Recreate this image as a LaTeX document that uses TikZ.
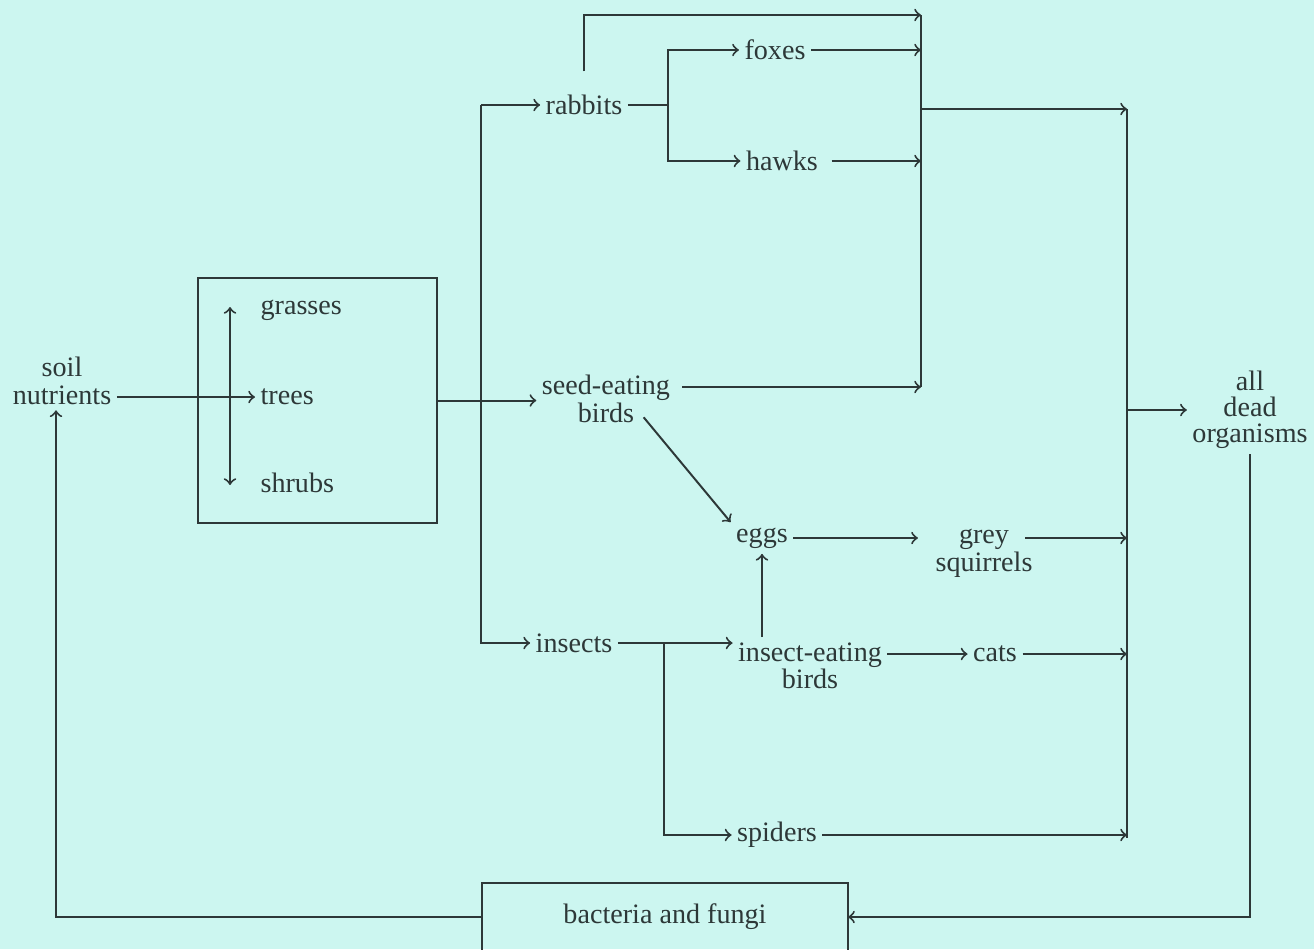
\documentclass[tikz,border=0pt]{standalone}
\usepackage{fontspec}
\setmainfont{Liberation Serif}
\usepackage{tikz}
\usetikzlibrary{arrows,calc}
\definecolor{paper}{RGB}{204,246,240}
\definecolor{ink}{RGB}{45,56,56}
\tikzset{
  sp/.style={inner sep=2pt,outer sep=0pt,align=center,text=ink,font=\fontsize{10}{9.8}\selectfont},
  bx/.style={rectangle,draw=ink,line width=0.7pt,inner sep=0pt},
  arr/.style={->,>=to,draw=ink,line width=0.7pt},
  ln/.style={draw=ink,line width=0.7pt},
}

\begin{document}
\begin{tikzpicture}[x=0.0125cm,y=-0.0125cm]
  \useasboundingbox (0,0) rectangle (1314,949);
  \fill[paper] (0,0) rectangle (1314,949);
  \clip (0,0) rectangle (1314,949);
  % producers
  \node[sp] (soil) at (62,381) {soil\\nutrients};
  \node[bx,minimum width=2.9875cm,minimum height=3.0625cm] (plants) at (317.5,400.5) {};
  \node[sp,anchor=west] (grasses) at (255,310) {grasses};
  \node[sp,anchor=west] (trees) at (255,397) {trees};
  \node[sp,anchor=west] (shrubs) at (255,483) {shrubs};
  % consumers
  \node[sp] (rabbits) at (584,105) {rabbits};
  \node[sp] (foxes) at (775,50) {foxes};
  \node[sp] (hawks) at (782,161) {hawks};
  \node[sp] (seedb) at (606,399) {seed-eating\\birds};
  \node[sp] (eggs) at (762,538) {eggs};
  \node[sp] (squirrels) at (984,553) {grey\\squirrels};
  \node[sp] (insects) at (574,643) {insects};
  \node[sp] (insectb) at (810,666) {insect-eating\\birds};
  \node[sp] (cats) at (995,654) {cats};
  \node[sp] (spiders) at (777,835) {spiders};
  % decomposers
  \node[sp,font=\fontsize{10}{9.2}\selectfont] (dead) at (1250,410) {all\\dead\\organisms};
  \node[sp,bx,minimum width=4.575cm,minimum height=0.85cm] (bact) at (665,917) {bacteria and fungi};

  \coordinate (bus) at (481,402);
  \coordinate (rfork) at (668,105);
  \coordinate (c1top) at (921,15);
  \coordinate (c1mid) at (921,109);
  \coordinate (c1bot) at (921,387);
  \coordinate (c2top) at (1127,109);
  \coordinate (c2bot) at (1127,838);
  \coordinate (ifork) at ($(insects.east)!.4!(insects.east -| insectb.west)$);

  \draw[arr] (soil.east |- trees.west) -- (trees.west);
  \draw[arr,<->] ($(grasses.west)+(-25,-3)$) -- ($(shrubs.west)+(-25,2)$);
  \draw[arr] (plants.east) -- (plants.east -| seedb.west);
  \draw[arr] (bus |- rabbits.west) -- (rabbits.west);
  \draw[arr] (bus |- rabbits.west) |- (insects.west);
  \draw[ln] (rabbits.east) -- (rfork);
  \draw[arr] (rfork) |- (foxes.west);
  \draw[arr] (rfork) |- (hawks.west);
  \draw[arr] ($(rabbits.north)+(0,-18)$) |- (c1top);
  \draw[arr] (foxes.east) -- (foxes.east -| c1top);
  \draw[arr,shorten <=0.1cm] (hawks.east) -- (hawks.east -| c1top);
  \draw[arr,shorten <=0.08cm] (seedb.east |- c1bot) -- (c1bot);
  \draw[ln] (c1top) -- (c1bot);
  \draw[arr] (c1mid) -- (c2top);
  \draw[ln] (c2top) -- (c2bot);
  \draw[arr] (c2top |- dead.west) -- (dead.west);
  \draw[arr] ($(seedb.south east)+(-32,-11)$) -- (eggs.north west);
  \draw[arr,shorten >=0.15cm] (eggs.east) -- (eggs.east -| squirrels.west);
  \draw[arr] ($(squirrels.east |- eggs.east)+(-13,0)$) -- (c2top |- eggs.east);
  \draw[arr] (insects.east) -- (insects.east -| insectb.west);
  \draw[arr] (insectb.north -| eggs.south) -- (eggs.south);
  \draw[arr] (cats.west -| insectb.east) -- (cats.west);
  \draw[arr] (cats.east) -- (cats.east -| c2top);
  \draw[arr] (ifork) |- (spiders.west);
  \draw[arr] (spiders.east) -- (spiders.east -| c2top);
  \draw[arr] (dead.south) |- (bact.east);
  \draw[arr] (bact.west) -| ($(soil.south)+(-6,0)$);
\end{tikzpicture}
\end{document}
